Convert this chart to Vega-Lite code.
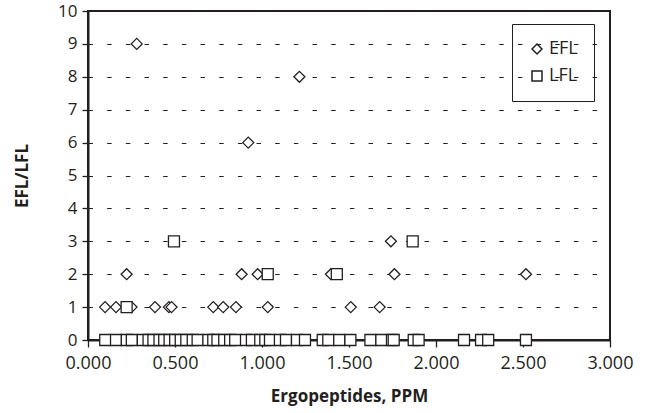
{
  "$schema": "https://vega.github.io/schema/vega-lite/v6.json",
  "width": 522,
  "height": 329,
  "autosize": {"type": "none"},
  "padding": {"left": 88, "top": 11, "right": 39, "bottom": 73},
  "background": "white",
  "config": {"view": {"stroke": "#231f20", "strokeWidth": 2}, "font": "Open Sans"},
  "data": {"values": [
    {"ppm": 0.28, "ratio": 9, "series": "EFL"},
    {"ppm": 1.215, "ratio": 8, "series": "EFL"},
    {"ppm": 0.921, "ratio": 6, "series": "EFL"},
    {"ppm": 1.741, "ratio": 3, "series": "EFL"},
    {"ppm": 0.222, "ratio": 2, "series": "EFL"},
    {"ppm": 0.883, "ratio": 2, "series": "EFL"},
    {"ppm": 0.975, "ratio": 2, "series": "EFL"},
    {"ppm": 1.396, "ratio": 2, "series": "EFL"},
    {"ppm": 1.761, "ratio": 2, "series": "EFL"},
    {"ppm": 2.517, "ratio": 2, "series": "EFL"},
    {"ppm": 0.098, "ratio": 1, "series": "EFL"},
    {"ppm": 0.161, "ratio": 1, "series": "EFL"},
    {"ppm": 0.25, "ratio": 1, "series": "EFL"},
    {"ppm": 0.385, "ratio": 1, "series": "EFL"},
    {"ppm": 0.465, "ratio": 1, "series": "EFL"},
    {"ppm": 0.48, "ratio": 1, "series": "EFL"},
    {"ppm": 0.72, "ratio": 1, "series": "EFL"},
    {"ppm": 0.777, "ratio": 1, "series": "EFL"},
    {"ppm": 0.85, "ratio": 1, "series": "EFL"},
    {"ppm": 1.033, "ratio": 1, "series": "EFL"},
    {"ppm": 1.51, "ratio": 1, "series": "EFL"},
    {"ppm": 1.676, "ratio": 1, "series": "EFL"},
    {"ppm": 0.222, "ratio": 1, "series": "LFL"},
    {"ppm": 1.033, "ratio": 2, "series": "LFL"},
    {"ppm": 1.43, "ratio": 2, "series": "LFL"},
    {"ppm": 0.494, "ratio": 3, "series": "LFL"},
    {"ppm": 1.866, "ratio": 3, "series": "LFL"},
    {"ppm": 0.099, "ratio": 0, "series": "LFL"},
    {"ppm": 0.161, "ratio": 0, "series": "LFL"},
    {"ppm": 0.223, "ratio": 0, "series": "LFL"},
    {"ppm": 0.252, "ratio": 0, "series": "LFL"},
    {"ppm": 0.315, "ratio": 0, "series": "LFL"},
    {"ppm": 0.348, "ratio": 0, "series": "LFL"},
    {"ppm": 0.376, "ratio": 0, "series": "LFL"},
    {"ppm": 0.411, "ratio": 0, "series": "LFL"},
    {"ppm": 0.438, "ratio": 0, "series": "LFL"},
    {"ppm": 0.469, "ratio": 0, "series": "LFL"},
    {"ppm": 0.501, "ratio": 0, "series": "LFL"},
    {"ppm": 0.533, "ratio": 0, "series": "LFL"},
    {"ppm": 0.565, "ratio": 0, "series": "LFL"},
    {"ppm": 0.602, "ratio": 0, "series": "LFL"},
    {"ppm": 0.63, "ratio": 0, "series": "LFL"},
    {"ppm": 0.692, "ratio": 0, "series": "LFL"},
    {"ppm": 0.72, "ratio": 0, "series": "LFL"},
    {"ppm": 0.744, "ratio": 0, "series": "LFL"},
    {"ppm": 0.783, "ratio": 0, "series": "LFL"},
    {"ppm": 0.817, "ratio": 0, "series": "LFL"},
    {"ppm": 0.846, "ratio": 0, "series": "LFL"},
    {"ppm": 0.908, "ratio": 0, "series": "LFL"},
    {"ppm": 0.942, "ratio": 0, "series": "LFL"},
    {"ppm": 0.99, "ratio": 0, "series": "LFL"},
    {"ppm": 1.019, "ratio": 0, "series": "LFL"},
    {"ppm": 1.046, "ratio": 0, "series": "LFL"},
    {"ppm": 1.103, "ratio": 0, "series": "LFL"},
    {"ppm": 1.138, "ratio": 0, "series": "LFL"},
    {"ppm": 1.201, "ratio": 0, "series": "LFL"},
    {"ppm": 1.247, "ratio": 0, "series": "LFL"},
    {"ppm": 1.349, "ratio": 0, "series": "LFL"},
    {"ppm": 1.381, "ratio": 0, "series": "LFL"},
    {"ppm": 1.444, "ratio": 0, "series": "LFL"},
    {"ppm": 1.508, "ratio": 0, "series": "LFL"},
    {"ppm": 1.623, "ratio": 0, "series": "LFL"},
    {"ppm": 1.686, "ratio": 0, "series": "LFL"},
    {"ppm": 1.747, "ratio": 0, "series": "LFL"},
    {"ppm": 1.757, "ratio": 0, "series": "LFL"},
    {"ppm": 1.872, "ratio": 0, "series": "LFL"},
    {"ppm": 1.9, "ratio": 0, "series": "LFL"},
    {"ppm": 2.161, "ratio": 0, "series": "LFL"},
    {"ppm": 2.259, "ratio": 0, "series": "LFL"},
    {"ppm": 2.3, "ratio": 0, "series": "LFL"},
    {"ppm": 2.517, "ratio": 0, "series": "LFL"}
  ]},
  "mark": {"type": "point", "filled": true, "fill": "white", "stroke": "#231f20", "strokeWidth": 1.3, "size": 121, "opacity": 1},
  "encoding": {
    "x": {
      "field": "ppm", "type": "quantitative",
      "scale": {"domain": [0, 3], "nice": false, "zero": false},
      "axis": {
        "title": "Ergopeptides, PPM",
        "values": [0, 0.5, 1, 1.5, 2, 2.5, 3],
        "format": ".3f",
        "grid": false,
        "labelFlush": false,
        "labelOverlap": false,
        "domainColor": "#231f20", "domainWidth": 2,
        "tickColor": "#231f20", "tickSize": 7, "tickWidth": 1.3,
        "labelFont": "Open Sans", "labelFontSize": 18, "labelColor": "#231f20", "labelPadding": 7,
        "titleFont": "Open Sans", "titleFontWeight": "bold", "titleFontSize": 17, "titleColor": "#231f20", "titlePadding": 16
      }
    },
    "y": {
      "field": "ratio", "type": "quantitative",
      "scale": {"domain": [0, 10], "nice": false},
      "axis": {
        "title": "EFL/LFL",
        "values": [0, 1, 2, 3, 4, 5, 6, 7, 8, 9, 10],
        "grid": true, "gridColor": "#231f20", "gridWidth": 1, "gridDash": [4.5, 14.17],
        "labelOverlap": false,
        "domainColor": "#231f20", "domainWidth": 2,
        "tickColor": "#231f20", "tickSize": 6, "tickWidth": 1.3,
        "labelFont": "Open Sans", "labelFontSize": 17, "labelColor": "#231f20", "labelPadding": 5,
        "titleFont": "Open Sans", "titleFontWeight": "bold", "titleFontSize": 17, "titleColor": "#231f20", "titlePadding": 26
      }
    },
    "shape": {
      "field": "series", "type": "nominal",
      "scale": {"domain": ["EFL", "LFL"], "range": ["diamond", "square"]},
      "legend": {
        "title": null, "orient": "none", "legendX": 424, "legendY": 13,
        "strokeColor": "#231f20", "padding": 16,
        "labelFont": "Open Sans", "labelFontSize": 18, "labelColor": "#231f20", "labelOffset": 3, "rowPadding": 9,
        "encode": {"legend": {"update": {"fill": {"value": "white"}}}}
      }
    }
  }
}
